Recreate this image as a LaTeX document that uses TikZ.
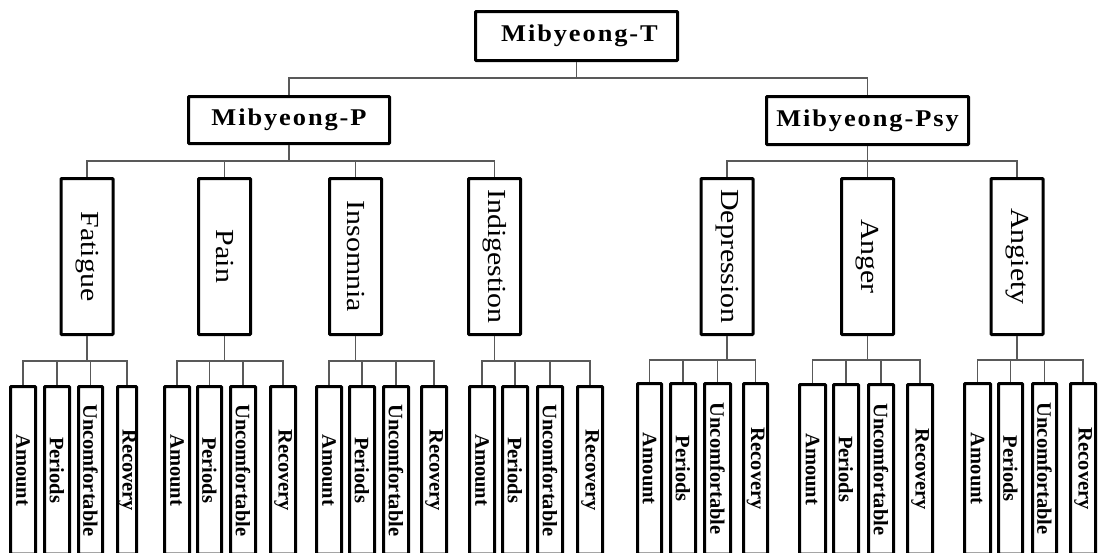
\documentclass[tikz,border=0pt]{standalone}
\usepackage{graphicx}
\usepackage{fontspec}
\setmainfont{Liberation Serif}
\newfontfamily\topfont{Liberation Serif}[FakeStretch=1.1,LetterSpace=8]
\newfontfamily\midfont{Liberation Serif}[FakeStretch=1.15]
\tikzset{
  box/.style={draw=black, line width=3pt, fill=white, inner sep=0pt, rounded corners=0.8pt},
  topbox/.style={box, font=\topfont\bfseries\fontsize{24}{28}\selectfont},
  midbox/.style={box, minimum width=52pt, minimum height=156pt, font=\midfont\fontsize{26}{30}\selectfont},
  leafbox/.style={box, font=\bfseries\fontsize{20.5}{24}\selectfont},
  conn/.style={draw=black!65, line width=1.1pt},
}
\begin{document}
\begin{tikzpicture}[x=1pt,y=-1pt]
\useasboundingbox (0,0) rectangle (1098,552);
% top level
\node[topbox, minimum width=202pt, minimum height=49pt] (T) at (576.5,36) {\hspace{6pt}Mibyeong-T};
\node[topbox, minimum width=201pt, minimum height=47pt] (P) at (289,120) {Mibyeong-P};
\node[topbox, minimum width=202pt, minimum height=48pt] (Psy) at (867.5,120.5) {Mibyeong-Psy};
% middle level
\node[midbox] (Fat)  at (87,256.5)    {\rotatebox{-90}{Fatigue}};
\node[midbox] (Pain) at (224.5,256.5) {\rotatebox{-90}{Pain}};
\node[midbox] (Ins)  at (355.5,256.5) {\rotatebox{-90}{Insomnia}};
\node[midbox] (Ind)  at (494.5,256.5) {\rotatebox{-90}{Indigestion}};
\node[midbox] (Dep)  at (727,256.5)   {\rotatebox{-90}{Depression}};
\node[midbox] (Ang)  at (867.5,256.5) {\rotatebox{-90}{Anger}};
\node[midbox] (Anx)  at (1017,256.5)  {\rotatebox{-90}{Angiety}};
% connectors level 0-1
\draw[conn] (T.south) -- (T.south |- 0,78);
\draw[conn] (P.north) -- (P.north |- 0,78) -- (Psy.north |- 0,78) -- (Psy.north);
% connectors level 1-2
\draw[conn] (P.south) -- (P.south |- 0,161);
\draw[conn] (Fat.north) -- (Fat.north |- 0,161) -- (Ind.north |- 0,161) -- (Ind.north);
\draw[conn] (Pain.north) -- (Pain.north |- 0,161);
\draw[conn] (Ins.north) -- (Ins.north |- 0,161);
\draw[conn] (Psy.south) -- (Psy.south |- 0,161);
\draw[conn] (Dep.north) -- (Dep.north |- 0,161) -- (Anx.north |- 0,161) -- (Anx.north);
\draw[conn] (Ang.north) -- (Ang.north |- 0,161);
% leaves
\foreach \g/\ya/\yt/\xa/\xA/\xb/\xB/\xc/\xC/\xd/\xD in {
  Fat/361/385/9/37/43/71/77/104/116/138,
  Pain/361/385/163/191/196/223/229/257/269/297,
  Ins/361/385/315/343/348/376/382/410/420/448,
  Ind/361/385/468/496/501/529/536/564/576/604,
  Dep/360/382/636/663/669/697/703/732/742/769,
  Ang/360/383/798/827/832/860/867/895/906/934,
  Anx/360/382/963/992/997/1024/1031/1058/1069/1097}{
  \node[leafbox, minimum width={\xA-\xa-3}, minimum height={554-\yt-1.5}] (\g-1) at ({(\xa+\xA)/2},{(\yt+1.5+554)/2}) {\rotatebox{-90}{Amount}};
  \node[leafbox, minimum width={\xB-\xb-3}, minimum height={554-\yt-1.5}] (\g-2) at ({(\xb+\xB)/2},{(\yt+1.5+554)/2}) {\rotatebox{-90}{Periods}};
  \node[leafbox, minimum width={\xC-\xc-3}, minimum height={554-\yt-1.5}] (\g-3) at ({(\xc+\xC)/2},{(\yt+1.5+554)/2}) {\rotatebox{-90}{Uncomfortable}};
  \node[leafbox, minimum width={\xD-\xd-3}, minimum height={554-\yt-1.5}] (\g-4) at ({(\xd+\xD)/2},{(\yt+1.5+554)/2}) {\rotatebox{-90}{Recovery}};
  \draw[conn] (\g.south) -- (\g.south |- 0,\ya);
  \draw[conn] (\g-1.north) -- (\g-1.north |- 0,\ya) -- (\g-4.north |- 0,\ya) -- (\g-4.north);
  \draw[conn] (\g-2.north) -- (\g-2.north |- 0,\ya);
  \draw[conn] (\g-3.north) -- (\g-3.north |- 0,\ya);
}
\end{tikzpicture}
\end{document}
